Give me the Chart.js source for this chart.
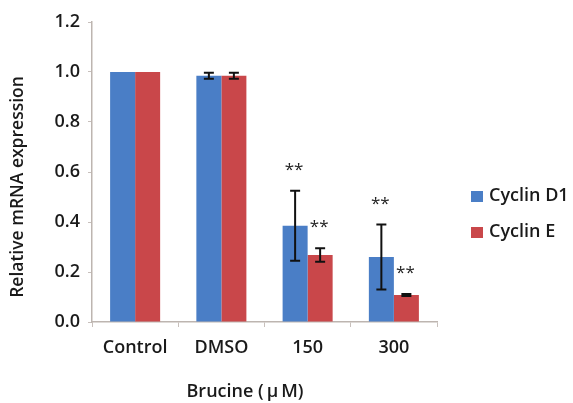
<!DOCTYPE html>
<html><head><meta charset="utf-8">
<script src="https://cdn.jsdelivr.net/npm/chart.js@4"></script>
<style>html,body{margin:0;padding:0;background:#fff}#wrap{width:573px;height:403px;position:relative}</style>
</head><body><div id="wrap"><canvas id="c" width="573" height="403"></canvas></div>
<script>
const categories = ["Control", "DMSO", "150", "300"];
const cyclinD1 = [1.0, 0.985, 0.385, 0.26];
const cyclinD1Err = [0, 0.012, 0.14, 0.13];
const cyclinE = [1.0, 0.985, 0.268, 0.108];
const cyclinEErr = [0, 0.012, 0.027, 0.004];
const cyclinD1Sig = ["", "", "**", "**"];
const cyclinESig = ["", "", "**", "**"];
const yTicks = [0, 0.2, 0.4, 0.6, 0.8, 1.0, 1.2];
const xTitle = "Brucine (\u2009\u03bc\u2009M)";
const yTitle = "Relative mRNA expression";

const FONT = "'Open Sans', 'Liberation Sans', sans-serif";
const TXT = '#1a1a1a';
const W = 600;
const errs = [cyclinD1Err, cyclinEErr];
const sigs = [cyclinD1Sig, cyclinESig];

const errorBars = {
  id: 'errorBars',
  afterDatasetsDraw(chart) {
    const ctx = chart.ctx, y = chart.scales.y;
    ctx.save();
    chart.data.datasets.forEach((ds, di) => {
      const meta = chart.getDatasetMeta(di);
      meta.data.forEach((bar, i) => {
        const v = ds.data[i], e = errs[di][i];
        const x = bar.x;
        if (e > 0) {
          const yt = y.getPixelForValue(v + e), yb = y.getPixelForValue(v - e);
          ctx.strokeStyle = '#111'; ctx.lineWidth = 2;
          ctx.beginPath();
          ctx.moveTo(x, yt); ctx.lineTo(x, yb);
          ctx.moveTo(x - 5, yt); ctx.lineTo(x + 5, yt);
          ctx.moveTo(x - 5, yb); ctx.lineTo(x + 5, yb);
          ctx.stroke();
        }
        const s = sigs[di][i];
        if (s) {
          const top = y.getPixelForValue(v + e);
          ctx.fillStyle = '#222';
          ctx.font = "17px " + FONT;
          ctx.textAlign = 'center'; ctx.textBaseline = 'alphabetic';
          ctx.fillText(s, x - 1, top - 16);
        }
      });
    });
    ctx.restore();
  }
};

const extraText = {
  id: 'extraText',
  afterDraw(chart) {
    const ctx = chart.ctx;
    ctx.save();
    ctx.fillStyle = TXT;
    ctx.textBaseline = 'middle';
    // legend
    ctx.font = W + " 18px " + FONT;
    ctx.textAlign = 'left';
    chart.data.datasets.forEach((ds, i) => {
      const cy = 196 + i * 36;
      ctx.fillStyle = ds.backgroundColor;
      ctx.fillRect(471, cy - 5, 12, 11);
      ctx.fillStyle = TXT;
      ctx.fillText(ds.label, 489, cy);
    });
    // x title
    ctx.font = W + " 18px " + FONT;
    ctx.textAlign = 'center';
    ctx.fillText(xTitle, 245, 392);
    // y title
    ctx.translate(18, 187);
    ctx.rotate(-Math.PI / 2);
    ctx.font = W + " 17.5px " + FONT;
    ctx.fillText(yTitle, 0, 0);
    ctx.restore();
  }
};

new Chart(document.getElementById('c'), {
  type: 'bar',
  data: {
    labels: categories,
    datasets: [
      { label: 'Cyclin D1', data: cyclinD1, backgroundColor: '#4a7ec6', categoryPercentage: 0.58, barPercentage: 1.0 },
      { label: 'Cyclin E', data: cyclinE, backgroundColor: '#c9474a', categoryPercentage: 0.58, barPercentage: 1.0 }
    ]
  },
  options: {
    responsive: false, animation: false,
    layout: { padding: { top: 22, right: 136, left: 0, bottom: 0 } },
    plugins: { legend: { display: false }, tooltip: { enabled: false } },
    scales: {
      x: {
        afterFit: s => { s.height = 81; },
        grid: { display: true, drawOnChartArea: false, tickLength: 5, color: '#c8c0bc', offset: true },
        border: { color: '#bdb5b0', width: 1.5 },
        ticks: { color: TXT, font: { family: FONT, size: 18, weight: W }, padding: 10 }
      },
      y: {
        min: 0, max: 1.2,
        afterFit: s => { s.width = 92; },
        afterBuildTicks: s => { s.ticks = yTicks.map(v => ({ value: v })); },
        grid: { display: true, drawOnChartArea: false, tickLength: 4, color: '#c8c0bc' },
        border: { color: '#bdb5b0', width: 1.5 },
        ticks: { color: TXT, font: { family: FONT, size: 18, weight: W }, padding: 8, callback: v => Number(v).toFixed(1) }
      }
    }
  },
  plugins: [errorBars, extraText]
});
</script></body></html>
